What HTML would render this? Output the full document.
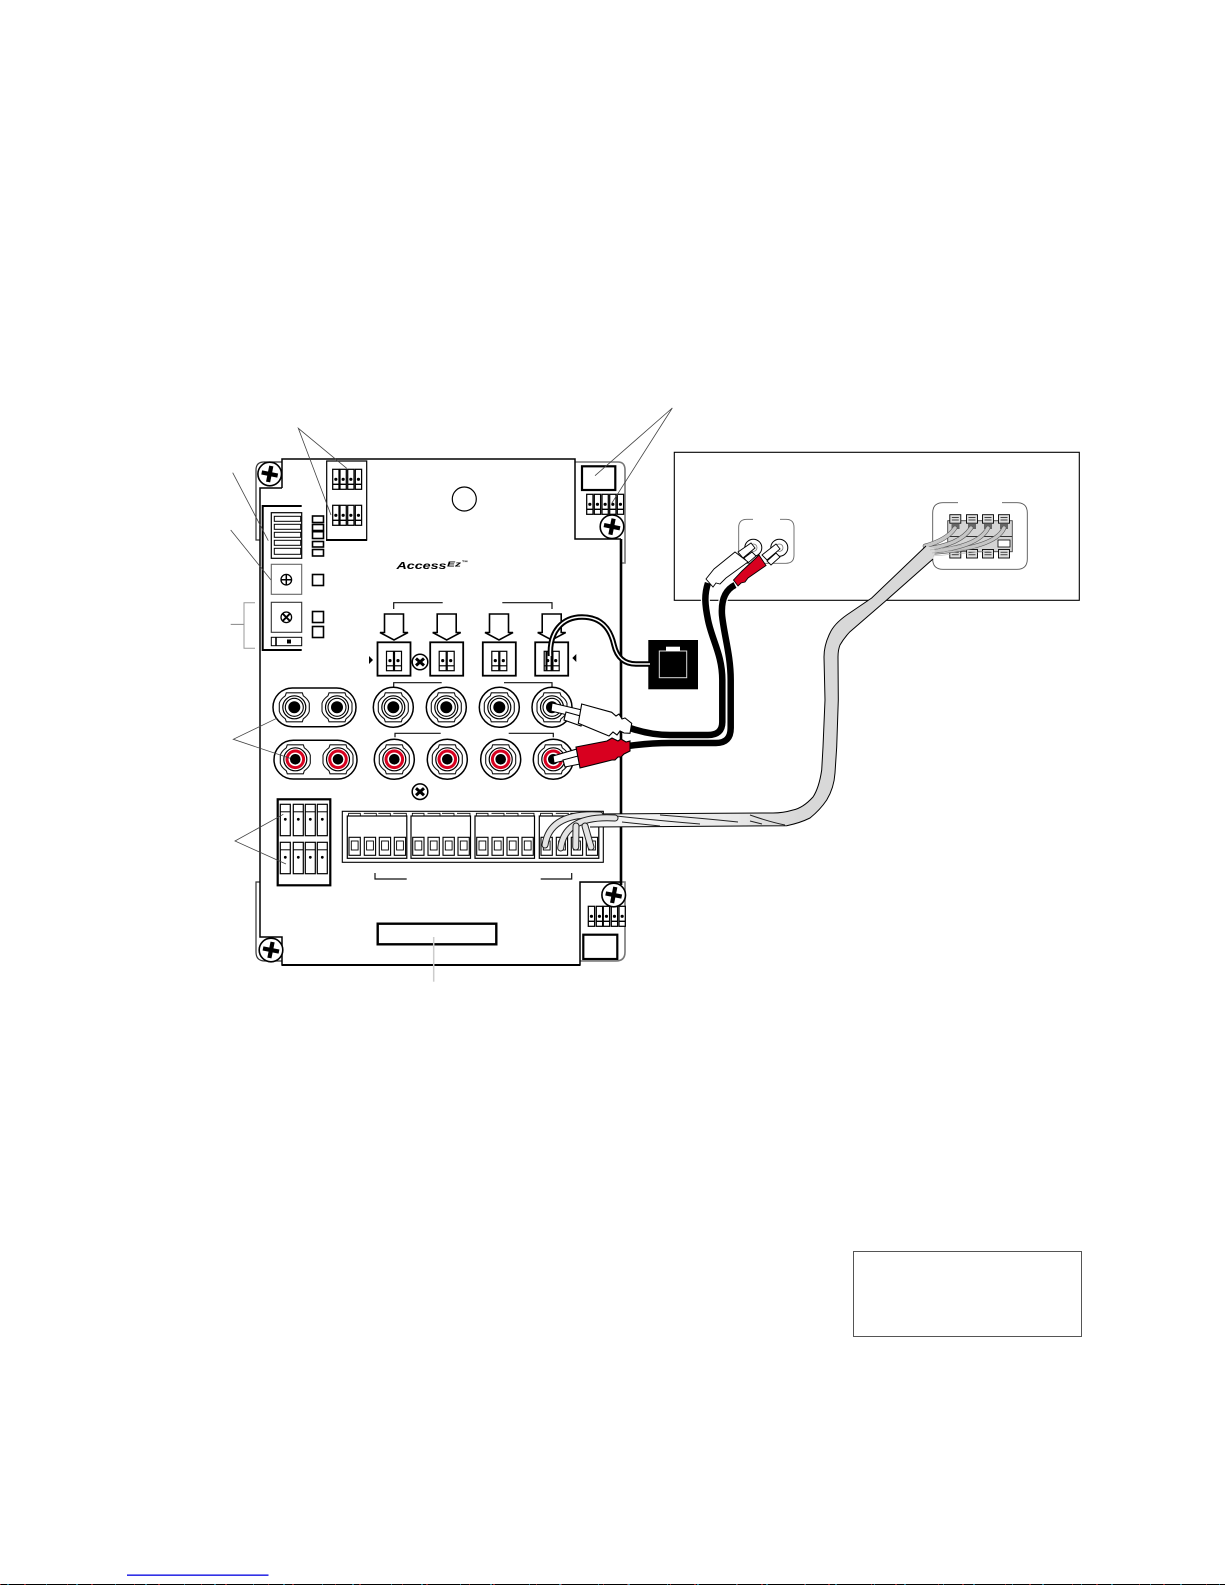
<!DOCTYPE html>
<html><head><meta charset="utf-8"><title>Wiring diagram</title>
<style>html,body{margin:0;padding:0;background:#fff}svg{display:block}</style></head>
<body>
<svg xmlns="http://www.w3.org/2000/svg" width="1225" height="1585" viewBox="0 0 1225 1585">
<defs>
<linearGradient id="cg" gradientUnits="userSpaceOnUse" x1="640" y1="0" x2="800" y2="0"><stop offset="0" stop-color="#f4f4f4"/><stop offset=".6" stop-color="#e8e8e8"/><stop offset="1" stop-color="#d8d8d8"/></linearGradient>
<g id="screw"><circle r="11.8" fill="#fff" stroke="#000" stroke-width="1.6"/><g stroke="#000" stroke-width="4.2"><line x1="-8" y1="-1.6" x2="8" y2="1.6"/><line x1="1.6" y1="-8" x2="-1.6" y2="8"/></g></g>
<g id="smallscrew"><circle r="7.8" fill="#fff" stroke="#000" stroke-width="1.5"/><g stroke="#000" stroke-width="3"><line x1="-4" y1="-3.5" x2="4" y2="3.5"/><line x1="4" y1="-3.5" x2="-4" y2="3.5"/></g></g>
<g id="nut"><path d="M-8,-14.5H8L9,-11.5Q14,-8 15,-4V4Q14,8 9,11.5L8,14.5H-8L-9,11.5Q-14,8 -15,4V-4Q-14,-8 -9,-11.5Z" fill="#fff" stroke="#111" stroke-width="1.1"/></g>
<g id="jblack"><use href="#nut"/><circle r="11.5" fill="#fff" stroke="#000" stroke-width="1.2"/><circle r="9" fill="#fff" stroke="#000" stroke-width="1.1"/><circle r="6" fill="#000"/></g>
<g id="jred"><use href="#nut"/><circle r="11.5" fill="#fff" stroke="#000" stroke-width="1.2"/><circle r="9.8" fill="#d8001f"/><circle r="6.8" fill="#fff"/><circle r="5.3" fill="#000"/></g>
<g id="t6"><rect width="6.3" height="20" fill="#fff" stroke="#000" stroke-width="1.25"/><line x1="0" y1="15" x2="6.3" y2="15" stroke="#000" stroke-width="1.4"/><circle cx="3.15" cy="10" r="1.6" fill="#000"/></g>
<g id="t10"><rect width="10" height="31.4" fill="#fff" stroke="#000" stroke-width="1.2"/><line x1="0" y1="7.5" x2="10" y2="7.5" stroke="#000"/><circle cx="5" cy="15" r="1.4" fill="#000"/></g>
<g id="arrow"><path d="M-9.5,0H9.5V18.5H14L0,26L-14,18.5H-9.5Z" fill="#fff" stroke="#000" stroke-width="1.6" stroke-linejoin="miter"/></g>
<g id="swbox"><rect x="-16.5" y="0" width="33" height="33.4" fill="#fff" stroke="#000" stroke-width="1.8"/><rect x="-7.5" y="9" width="7" height="19.4" fill="#fff" stroke="#000" stroke-width="1.2"/><rect x=".5" y="9" width="7" height="19.4" fill="#fff" stroke="#000" stroke-width="1.2"/><line x1="-7.5" y1="23.5" x2="7.5" y2="23.5" stroke="#000" stroke-width="1.2"/><circle cx="-4" cy="18.3" r="1.6" fill="#000"/><circle cx="4" cy="18.3" r="1.6" fill="#000"/></g>
<g id="slot"><rect width="11.3" height="18" fill="#fff" stroke="#000" stroke-width="1.1"/><rect x="2.3" y="3.7" width="6.8" height="9" fill="#fff" stroke="#000" stroke-width=".9"/></g>
<g id="tgroup"><rect x="0" y="4.7" width="59.5" height="42.3" fill="#fff" stroke="#000" stroke-width="1.2"/><path d="M1.3,4.7V2H13V4.7M16.5,2H29V4.7M31,2H43V4.7M46,2H59V4.7" fill="none" stroke="#000" stroke-width=".8"/><use href="#slot" x="1.7" y="26"/><use href="#slot" x="17" y="26"/><use href="#slot" x="32" y="26"/><use href="#slot" x="47" y="26"/></g>
<g id="clip"><rect x="-5.5" y="0" width="11" height="8.5" fill="#ddd" stroke="#000" stroke-width=".9"/><line x1="-3.5" y1="2.7" x2="3.5" y2="2.7" stroke="#000" stroke-width=".7"/><line x1="-3.5" y1="5.3" x2="3.5" y2="5.3" stroke="#000" stroke-width=".7"/></g>
</defs>
<rect width="1225" height="1585" fill="#fff"/>

<!-- backing plate -->
<g fill="#fff">
<path d="M256,540V470Q256,462 264,462H290V540Z" stroke="#333" stroke-width="1.2"/>
<path d="M570,462H618Q625,462 625,470V563H570Z" stroke="#777" stroke-width="1.6"/>
<path d="M256,882V952Q256,961 265,961H290V882Z" stroke="#333" stroke-width="1.2"/>
<path d="M570,882H625V952Q625,961 616,961H570Z" stroke="#777" stroke-width="1.6"/>
</g>
<!-- board -->
<path d="M282,459H575V539H621V882H580V965H282V937H260V488H282Z" fill="#fff" stroke="none"/>
<path d="M282,488V459H575V539H621" fill="none" stroke="#000" stroke-width="1.5"/>
<path d="M282,488H260V937H282V965H580V882H621" fill="none" stroke="#000" stroke-width="1.5"/>
<line x1="282" y1="965" x2="580" y2="965" stroke="#000" stroke-width="2"/>
<line x1="621" y1="539" x2="621" y2="885" stroke="#000" stroke-width="2.6"/>
<use href="#screw" x="269.7" y="474"/><use href="#screw" x="271" y="950"/>
<use href="#smallscrew" x="420" y="662"/><use href="#smallscrew" x="420" y="791.7"/>
<circle cx="464.3" cy="499" r="12" fill="#fff" stroke="#000" stroke-width="1.2"/>

<!-- top block -->
<path d="M326.7,540V461H366.7V540Z" fill="#fff" stroke="#000" stroke-width="1.2"/><line x1="326" y1="540" x2="367" y2="540" stroke="#000" stroke-width="2"/>
<g><use href="#t6" x="332.7" y="469.3"/><use href="#t6" x="340" y="469.3"/><use href="#t6" x="347.7" y="469.3"/><use href="#t6" x="355.3" y="469.3"/>
<use href="#t6" x="332.7" y="505.3"/><use href="#t6" x="340" y="505.3"/><use href="#t6" x="347.7" y="505.3"/><use href="#t6" x="355.3" y="505.3"/></g>

<!-- left module -->
<path d="M301.7,506H262.7V650H301.7" fill="#fff" stroke="#000" stroke-width="2"/>
<rect x="271.3" y="512.7" width="30.4" height="45.6" fill="#fff" stroke="#000" stroke-width="1.2"/>
<g fill="#fff" stroke="#000" stroke-width="1"><rect x="274.3" y="516.3" width="26.4" height="5"/><rect x="274.3" y="524.3" width="26.4" height="5"/><rect x="274.3" y="532.3" width="26.4" height="5"/><rect x="274.3" y="540.3" width="26.4" height="5"/><rect x="274.3" y="548.3" width="26.4" height="6"/></g>
<rect x="271.3" y="564.3" width="30.4" height="30" fill="#fff" stroke="#666" stroke-width="1.1"/>
<rect x="271.3" y="602.3" width="30.4" height="30" fill="#fff" stroke="#333" stroke-width="1.1"/>
<circle cx="286.3" cy="579.7" r="5.3" fill="#fff" stroke="#000" stroke-width="1.3"/><path d="M281,579.7H291.6M286.3,574.4V585" stroke="#000" stroke-width="1.5"/>
<circle cx="286.3" cy="617.3" r="5.3" fill="#fff" stroke="#000" stroke-width="1.3"/><path d="M282.7,613.7L289.9,620.9M289.9,613.7L282.7,620.9" stroke="#000" stroke-width="1.9"/>
<rect x="271.3" y="637.3" width="30.4" height="8.4" fill="#fff" stroke="#000" stroke-width="1"/><line x1="276" y1="637.3" x2="276" y2="645.7" stroke="#000" stroke-width="1.6"/><rect x="287" y="639.5" width="4" height="4" fill="#000"/>
<!-- LEDs -->
<g fill="#fff" stroke="#000" stroke-width="1.6"><rect x="312.5" y="516" width="11" height="6.5"/><rect x="312.5" y="524.5" width="11" height="6"/><rect x="312.5" y="531.5" width="11" height="7"/><rect x="312.5" y="541.5" width="11" height="5.5"/><rect x="312.5" y="549.5" width="11" height="6.5"/>
<rect x="312.5" y="574.5" width="11" height="11"/><rect x="312.5" y="611.5" width="11" height="11"/><rect x="312.5" y="626.5" width="11" height="11"/></g>
<rect x="312" y="530" width="12" height="2.5" fill="#000"/>

<!-- logo -->
<g font-family="'Liberation Sans',sans-serif" font-style="italic" font-weight="bold" fill="#000">
<text x="396.5" y="569" font-size="10.5" textLength="50" lengthAdjust="spacingAndGlyphs">Access</text>
<text x="447" y="566.5" font-size="7.5" textLength="14" lengthAdjust="spacingAndGlyphs">Ez</text>
<text x="461.5" y="564" font-size="5" textLength="6.5" lengthAdjust="spacingAndGlyphs">™</text>
</g>

<!-- brackets -->
<g fill="none" stroke="#111" stroke-width="1.2">
<path d="M393.7,609V602.7H442.7"/><path d="M502.3,602.7H552V609"/>
<path d="M393.7,687V682.7H441.7"/><path d="M504,682.7H552V687"/>
<path d="M395,737.3V733.3H440.7"/><path d="M508.7,733.3H553.3V737.3"/>
<path d="M375,873V879H406.7"/><path d="M540.7,879H571.7V873"/>
</g>

<!-- arrows -->
<use href="#arrow" x="394" y="614"/><use href="#arrow" x="446.7" y="614"/><use href="#arrow" x="499" y="614"/><use href="#arrow" x="551.7" y="614"/>
<use href="#swbox" x="394" y="642.3"/><use href="#swbox" x="446.7" y="642.3"/><use href="#swbox" x="499.3" y="642.3"/><use href="#swbox" x="551.7" y="642.3"/>
<path d="M369,656V664L373,660Z" fill="#000"/><path d="M576.3,654V662L572.3,658Z" fill="#000"/>

<!-- capsules and jacks -->
<rect x="273" y="688" width="83" height="38.7" rx="19.3" fill="#fff" stroke="#000" stroke-width="1.5"/>
<rect x="274" y="740.3" width="83" height="38.7" rx="19.3" fill="#fff" stroke="#000" stroke-width="1.5"/>
<g fill="#fff" stroke="#000" stroke-width="1.5"><circle cx="393.3" cy="707.3" r="20"/><circle cx="446.3" cy="707.3" r="20"/><circle cx="499.3" cy="707.3" r="20"/><circle cx="552" cy="707.3" r="20"/>
<circle cx="394.3" cy="759.3" r="20"/><circle cx="447.3" cy="759.3" r="20"/><circle cx="500.7" cy="759.3" r="20"/><circle cx="553.3" cy="759.3" r="20"/></g>
<use href="#jblack" x="294.3" y="707.3"/><use href="#jblack" x="337" y="707.3"/><use href="#jblack" x="393.3" y="707.3"/><use href="#jblack" x="446.3" y="707.3"/><use href="#jblack" x="499.3" y="707.3"/><use href="#jblack" x="552" y="707.3"/>
<use href="#jred" x="295.3" y="759.3"/><use href="#jred" x="338" y="759.3"/><use href="#jred" x="394.3" y="759.3"/><use href="#jred" x="447.3" y="759.3"/><use href="#jred" x="500.7" y="759.3"/><use href="#jred" x="553.3" y="759.3"/>

<!-- lower-left terminal block -->
<rect x="277.7" y="799.3" width="52.6" height="86" fill="#fff" stroke="#000" stroke-width="2.2"/>
<g><use href="#t10" x="280.3" y="804.3"/><use href="#t10" x="293.3" y="804.3"/><use href="#t10" x="305.3" y="804.3"/><use href="#t10" x="317.3" y="804.3"/>
<use href="#t10" x="280.3" y="842.3"/><use href="#t10" x="293.3" y="842.3"/><use href="#t10" x="305.3" y="842.3"/><use href="#t10" x="317.3" y="842.3"/></g>

<!-- terminal strip -->
<rect x="342.3" y="811.3" width="261" height="51" fill="#fff" stroke="#000" stroke-width="1.1"/>
<use href="#tgroup" x="347.3" y="811.3"/><use href="#tgroup" x="411" y="811.3"/><use href="#tgroup" x="475" y="811.3"/><use href="#tgroup" x="539.3" y="811.3"/>

<!-- bottom label box -->
<rect x="377.7" y="923.7" width="118.6" height="20.6" fill="#fff" stroke="#000" stroke-width="2.4"/>
<line x1="433.7" y1="937" x2="433.7" y2="981.7" stroke="#ccc" stroke-width="1.5"/>

<!-- corners -->
<rect x="582" y="466.3" width="33.3" height="23.7" fill="#fff" stroke="#000" stroke-width="2.2"/>
<use href="#t6" x="586.7" y="494.3"/><use href="#t6" x="594.3" y="494.3"/><use href="#t6" x="602" y="494.3"/><use href="#t6" x="609.7" y="494.3"/><use href="#t6" x="617.3" y="494.3"/>
<use href="#t6" x="588.3" y="906.3"/><use href="#t6" x="596.3" y="906.3"/><use href="#t6" x="603.3" y="906.3"/><use href="#t6" x="611.3" y="906.3"/><use href="#t6" x="619" y="906.3"/>
<rect x="583.3" y="934.7" width="34" height="24.3" fill="#fff" stroke="#000" stroke-width="2.2"/>
<use href="#screw" x="612" y="526.7"/><use href="#screw" x="613.7" y="895"/>

<!-- leaders -->
<g fill="none" stroke="#444" stroke-width=".8">
<path d="M346.7,468.3L298.3,428.3L331,515"/>
<path d="M232.7,472.7L268.3,540.7"/><path d="M230.7,530L271,580"/>
<path d="M595,475.7L672.3,408L611.7,503.3"/>
<path d="M276.7,718.3L233.3,739.3L290,758.3"/>
<path d="M283.3,814.3L235,841L286,864"/>
<path d="M230.7,624.3H244" stroke="#666"/>
</g>
<path d="M255,602.7H244V648.3H255" fill="none" stroke="#999" stroke-width="1"/>

<!-- receiver box -->
<rect x="674.3" y="452.3" width="405" height="148" fill="#fff" stroke="#000" stroke-width="1.1"/>
<path d="M753,519.3H747Q738.7,519.3 738.7,527.3V555.3Q738.7,563.3 747,563.3H786Q794,563.3 794,555.3V527.3Q794,519.3 786,519.3H780" fill="none" stroke="#666" stroke-width=".9"/>
<circle cx="753.3" cy="547.7" r="8.5" fill="#fff" stroke="#000"/><circle cx="753.3" cy="547.7" r="3.7" fill="#fff" stroke="#777" stroke-width=".8"/>
<circle cx="779.3" cy="547.7" r="8.5" fill="#fff" stroke="#000"/><circle cx="779.3" cy="547.7" r="3.7" fill="#fff" stroke="#777" stroke-width=".8"/>
<path d="M958,502.7H943Q932.7,502.7 932.7,513V559Q932.7,569.3 943,569.3H1017Q1027.3,569.3 1027.3,559V513Q1027.3,502.7 1017,502.7H1002" fill="#fff" stroke="#555" stroke-width=".9"/>
<!-- receiver terminals -->
<rect x="947.7" y="520.7" width="64.6" height="31" fill="#d4d4d4" stroke="#444" stroke-width=".9"/>
<path d="M947.7,536.5H1012.3" stroke="#333" stroke-width="1"/>
<rect x="998" y="540" width="12" height="7" fill="#fff" stroke="#000" stroke-width=".8"/>
<use href="#clip" x="955.3" y="514.7"/><use href="#clip" x="972" y="514.7"/><use href="#clip" x="988" y="514.7"/><use href="#clip" x="1004" y="514.7"/>
<use href="#clip" x="955.3" y="549.5"/><use href="#clip" x="972" y="549.5"/><use href="#clip" x="988" y="549.5"/><use href="#clip" x="1004" y="549.5"/>
<g fill="#666"><rect x="951.5" y="524" width="8" height="5"/><rect x="968" y="524" width="8" height="5"/><rect x="984" y="524" width="8" height="5"/><rect x="1000" y="524" width="8" height="5"/></g>
<!-- receiver wires -->
<g fill="none" stroke-linecap="round">
<path d="M925,553Q995,549 1004,528" stroke="#555" stroke-width="4.6"/><path d="M925,553Q995,549 1004,528" stroke="#c6c6c6" stroke-width="3.4"/>
<path d="M925,552Q978,548 988,528" stroke="#555" stroke-width="4.6"/><path d="M925,552Q978,548 988,528" stroke="#c6c6c6" stroke-width="3.4"/>
<path d="M925,549Q960,545 971,528" stroke="#555" stroke-width="4.6"/><path d="M925,549Q960,545 971,528" stroke="#c6c6c6" stroke-width="3.4"/>
<path d="M925,546Q947,540 955,528" stroke="#555" stroke-width="4.6"/><path d="M925,546Q947,540 955,528" stroke="#c6c6c6" stroke-width="3.4"/>
</g>

<!-- gray cable -->
<path d="M926,546L871.7,598L846.7,615Q834,624 830,633Q824,645 824,657L825,700L823,747L821.7,770Q819,788 813,797Q803,808 793,810Q783,813 773,813L590,814V827L786.7,825.7Q800,823 810,818Q820,810 826.7,800Q834,788 835,773L836.7,747L838.3,700L838,657Q838,650 840,645Q844,638 850,631.7L886.7,600L933,559Q936,552 934,548Z" fill="url(#cg)"/>
<g fill="none" stroke="#000" stroke-width="1"><path d="M926,546L871.7,598L846.7,615Q834,624 830,633Q824,645 824,657L825,700L823,747L821.7,770Q819,788 813,797Q803,808 793,810Q783,813 773,813L590,814"/>
<path d="M590,827L786.7,825.7Q800,823 810,818Q820,810 826.7,800Q834,788 835,773L836.7,747L838.3,700L838,657Q838,650 840,645Q844,638 850,631.7L886.7,600L933,559"/></g>
<g fill="none" stroke="#aaa" stroke-width=".6"><path d="M930,550L962,545M932,553L978,548M933,556L990,551"/></g>
<!-- twist lines -->
<g fill="none" stroke="#222" stroke-width="1"><path d="M590,813Q640,819 700,824"/><path d="M622,822L660,826"/><path d="M660,815Q700,818 738,822"/><path d="M750,815Q770,822 785,825"/><path d="M750,821L762,824"/></g>
<g fill="none" stroke-linecap="round">
<path d="M600,815Q550,812 545,845" stroke="#222" stroke-width="7"/><path d="M600,815Q550,812 545,845" stroke="#e4e4e4" stroke-width="5"/>
<path d="M615,818Q565,815 560.7,848" stroke="#222" stroke-width="7"/><path d="M615,818Q565,815 560.7,848" stroke="#e4e4e4" stroke-width="5"/>
<path d="M576,826L575.7,847" stroke="#222" stroke-width="7"/><path d="M576,826L575.7,847" stroke="#e4e4e4" stroke-width="5"/>
<path d="M585,826L591,847" stroke="#222" stroke-width="7"/><path d="M585,826L591,847" stroke="#e4e4e4" stroke-width="5"/>
</g>

<!-- phone jack -->
<rect x="648.3" y="640" width="49.7" height="49.3" fill="#000"/>
<rect x="659.3" y="651" width="27.4" height="26.7" fill="#000" stroke="#ddd" stroke-width="1"/>
<rect x="666" y="646.7" width="14" height="4.3" fill="#fff"/>
<!-- phone cable -->
<path d="M550.5,656C549,632 562,617 582,617C604,617 611,632 614,645C617,658 625,664 636,664H650" fill="none" stroke="#000" stroke-width="5.5"/>
<path d="M550.5,656C549,632 562,617 582,617C604,617 611,632 614,645C617,658 625,664 636,664H650" fill="none" stroke="#fff" stroke-width="1.6"/>
<path d="M546.5,651V671M552.5,651V671" stroke="#000" stroke-width="2"/>

<!-- RCA cables -->
<g fill="none" stroke-linejoin="round">
<path d="M708,583C704,595 705,605 708,620C712,640 722.3,655 722.3,680V722Q722.3,735 708,735H670Q650,735 630,728" stroke="#fff" stroke-width="9"/>
<path d="M708,583C704,595 705,605 708,620C712,640 722.3,655 722.3,680V722Q722.3,735 708,735H670Q650,735 630,728" stroke="#000" stroke-width="6.5"/>
<path d="M735,585C725,590 721,600 722,615C724,635 730.7,655 730.7,680V728Q730.7,743 716,743H670Q650,743 628,746" stroke="#fff" stroke-width="9"/>
<path d="M735,585C725,590 721,600 722,615C724,635 730.7,655 730.7,680V728Q730.7,743 716,743H670Q650,743 628,746" stroke="#000" stroke-width="6.5"/>
</g>
<!-- board plugs -->
<g stroke="#000" stroke-width="1.1">
<path d="M552,703L582,710L580,718L551,711Z" fill="#fff"/><path d="M566,712L584,717L581,726L564,720Z" fill="#fff"/>
<path d="M581.7,704L611.7,712.3L616,716L619,714L622,719L625,718L631.7,723.3L630,733.3L624,733L620,731L617,735L613,732L609,736L601.7,733L578.3,723.3Z" fill="#fff"/>
<path d="M553,756L577,749L579,757L554,763Z" fill="#fff"/><path d="M563,760L578,756L580,764L565,767Z" fill="#fff"/>
<path d="M576,747L607,741L612,738L618,741L621,739L626,742L630,741L630,751L624,754L621,757L618,757L615,760L612,760L580,768Z" fill="#d8001f"/>
</g>
<!-- receiver plugs -->
<g stroke="#000" stroke-width=".9">
<path d="M738,552L751,543L755,548L743,558Z" fill="#fff"/><path d="M744,558L752,552L756,556L748,563Z" fill="#fff"/>
<path d="M735,552L748,562L726,578L720,584L716,583L713,587L706,579L714,569Z" fill="#fff"/>
<path d="M762,555L776,544L780,549L767,560Z" fill="#fff"/><path d="M767,561L776,553L780,557L771,565Z" fill="#fff"/>
<path d="M759,555L766,565.5L748,578L745,582L741,583L738,586L733.5,580L742,571Z" fill="#d8001f"/>
</g>

<!-- note box -->
<rect x="853.5" y="1251.5" width="228" height="85" fill="#fff" stroke="#555" stroke-width="1"/>

<!-- bottom -->
<rect x="127" y="1574.5" width="141.5" height="1.3" fill="#0000e0"/>
<rect x="0" y="1584" width="1225" height="1" fill="#000"/>
<line x1="0" y1="1584.5" x2="1225" y2="1584.5" stroke="#c33" stroke-width="1" stroke-dasharray="1 23 2 41" opacity=".7"/>
<line x1="7" y1="1584.5" x2="1225" y2="1584.5" stroke="#3ac" stroke-width="1" stroke-dasharray="2 37 1 29" opacity=".7"/>
</svg>
</body></html>
